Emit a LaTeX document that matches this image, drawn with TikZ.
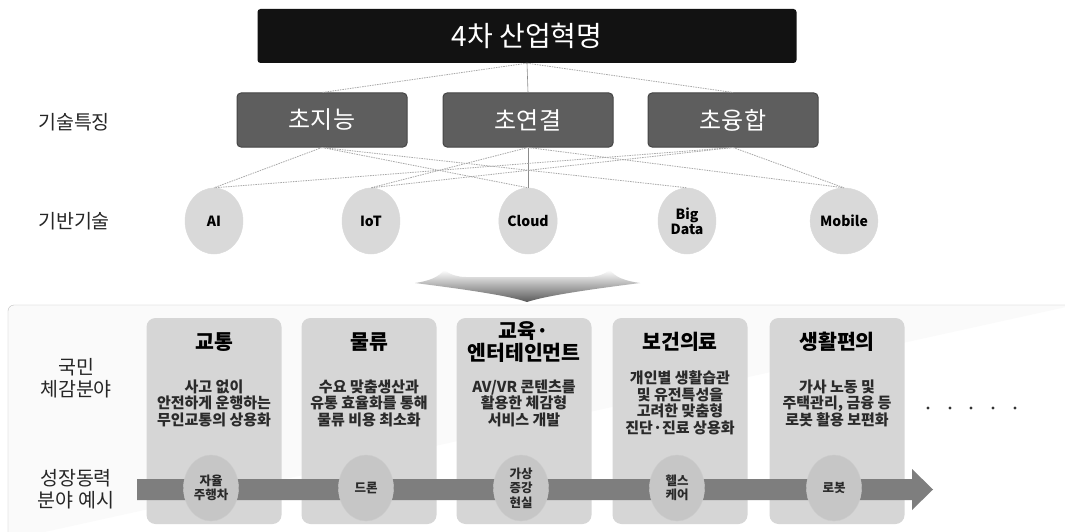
\documentclass[tikz,border=0pt]{standalone}
\usepackage{fontspec}
\setmainfont{Noto Sans CJK KR}
\usetikzlibrary{shapes.geometric}
\definecolor{featgray}{HTML}{5E5E5E}
\definecolor{featedge}{HTML}{454545}
\definecolor{techgray}{HTML}{D9D9D9}
\definecolor{colgray}{HTML}{D6D6D6}
\definecolor{arrgray}{HTML}{7E7E7E}
\definecolor{circgray}{HTML}{C6C6C6}
\definecolor{txtgray}{HTML}{2A2A2A}
\definecolor{linegray}{HTML}{A8A8A8}
\tikzset{
  topbox/.style={rectangle, rounded corners=3pt, fill=black!93, minimum width=539pt, minimum height=54pt, text=white, font=\fontsize{28}{30}\selectfont},
  featbox/.style={rectangle, rounded corners=4pt, fill=featgray, draw=featedge, line width=1pt, minimum width=170pt, minimum height=54pt, text=white, font=\fontsize{24}{26}\selectfont},
  tech/.style={ellipse, fill=techgray, draw=black!15, minimum width=58pt, minimum height=66pt, inner sep=0pt, align=center, font=\fontsize{14}{15}\selectfont\bfseries},
  sidelabel/.style={align=center, text=black!85, font=\fontsize{19.5}{22}\selectfont},
  colbox/.style={rectangle, rounded corners=9pt, fill=colgray, minimum width=135pt, minimum height=206pt},
  coltitle/.style={align=center, font=\fontsize{20.5}{22}\selectfont\bfseries},
  coldesc/.style={align=center, text=txtgray, font=\fontsize{15}{16.5}\selectfont\bfseries},
  growth/.style={ellipse, fill=circgray, draw=black!20, minimum width=55pt, minimum height=66pt, inner sep=0pt, align=center, text=txtgray, font=\fontsize{12.5}{14.5}\selectfont\bfseries},
  link/.style={draw=linegray, dash pattern=on 1.5pt off 1pt, line width=0.8pt},
  solidlink/.style={draw=black!45, line width=0.6pt},
  dotmark/.style={circle, fill=black!80, inner sep=0pt, minimum size=3.2pt}
}
\begin{document}
\begin{tikzpicture}[x=1pt,y=-1pt]
\useasboundingbox (0,0) rectangle (1065,532);
\fill[white] (0,0) rectangle (1065,532);

% top
\node[topbox] (top) at (527,36) {4차 산업혁명};

% features
\node[featbox] (f1) at (322,120) {초지능};
\node[featbox] (f2) at (528,120) {초연결};
\node[featbox] (f3) at (733,120) {초융합};

% technologies
\node[tech] (t1) at (214,221) {AI};
\node[tech] (t2) at (371,221) {IoT};
\node[tech] (t3) at (528,221) {Cloud};
\node[tech] (t4) at (687,221) {Big\\Data};
\node[tech] (t5) at (844,221) {Mobile};

% side labels
\node[sidelabel] (l1) at (74,122) {기술특징};
\node[sidelabel] (l2) at (74,221) {기반기술};

% connectors top -> features
\draw[link] (top.south) -- (f1.north);
\draw[solidlink] (top.south) -- (f2.north);
\draw[link] (top.south) -- (f3.north);

% features -> technologies
\draw[link] (f1.south) -- (t1.north);
\draw[link] (f1.south) -- (t3.north);
\draw[link] (f1.south) -- (t4.north);
\draw[link] (f2.south) -- (t2.north);
\draw[solidlink] (f2.south) -- (t3.north);
\draw[link] (f2.south) -- (t5.north);
\draw[link] (f3.south) -- (t1.north);
\draw[link] (f3.south) -- (t2.north);
\draw[link] (f3.south) -- (t5.north);

% chevron
\shade[top color=white, bottom color=black!65]
  (415,283) .. controls (470,290) and (510,296) .. (527,302)
  .. controls (545,296) and (585,290) .. (640,283)
  .. controls (625,281) and (615,277) .. (610,270)
  .. controls (603,275) and (596,277) .. (588,277)
  -- (466,277)
  .. controls (458,277) and (451,275) .. (444,270)
  .. controls (439,277) and (429,281) .. (415,283) -- cycle;

% bottom panel
\draw[draw=black!25, fill=black!2, rounded corners=6pt] (8,540) -- (8,305) -- (1075,305);

% columns
\node[colbox] (c1) at (214,421) {};
\node[colbox] (c2) at (369,421) {};
\node[colbox] (c3) at (524,421) {};
\node[colbox] (c4) at (680,421) {};
\node[colbox] (c5) at (837,421) {};

\node[coltitle] (h1) at (214,342) {교통};
\node[coltitle] (h2) at (369,342) {물류};
\node[coltitle] (h3) at (524,342) {교육·\\엔터테인먼트};
\node[coltitle] (h4) at (680,342) {보건의료};
\node[coltitle] (h5) at (837,342) {생활편의};

\node[coldesc] (d1) at (214,403) {사고 없이\\안전하게 운행하는\\무인교통의 상용화};
\node[coldesc] (d2) at (369,403) {수요 맞춤생산과\\유통 효율화를 통해\\물류 비용 최소화};
\node[coldesc] (d3) at (524,403) {AV/VR 콘텐츠를\\활용한 체감형\\서비스 개발};
\node[coldesc] (d4) at (680,403) {개인별 생활습관\\및 유전특성을\\고려한 맞춤형\\진단·진료 상용화};
\node[coldesc] (d5) at (837,403) {가사 노동 및\\주택관리, 금융 등\\로봇 활용 보편화};

\node[sidelabel] (l3) at (76,378) {국민\\체감분야};
\node[sidelabel] (l4) at (76,489) {성장동력\\분야 예시};

% dots
\foreach \i/\xx in {1/928,2/950,3/971,4/993,5/1015}
  \node[dotmark] (dot\i) at (\xx,408) {};

% growth arrow
\coordinate (a0) at (137,489.5);
\coordinate (a1) at (933,489.5);
\fill[arrgray] (137,479) -- (912,479) -- (912,469) -- (a1) -- (912,510) -- (912,500) -- (137,500) -- cycle;

\node[growth] (g1) at (211,488) {자율\\주행차};
\node[growth] (g2) at (366,488) {드론};
\node[growth] (g3) at (521,488) {가상\\증강\\현실};
\node[growth] (g4) at (677,488) {헬스\\케어};
\node[growth] (g5) at (834,488) {로봇};
\end{tikzpicture}
\end{document}
